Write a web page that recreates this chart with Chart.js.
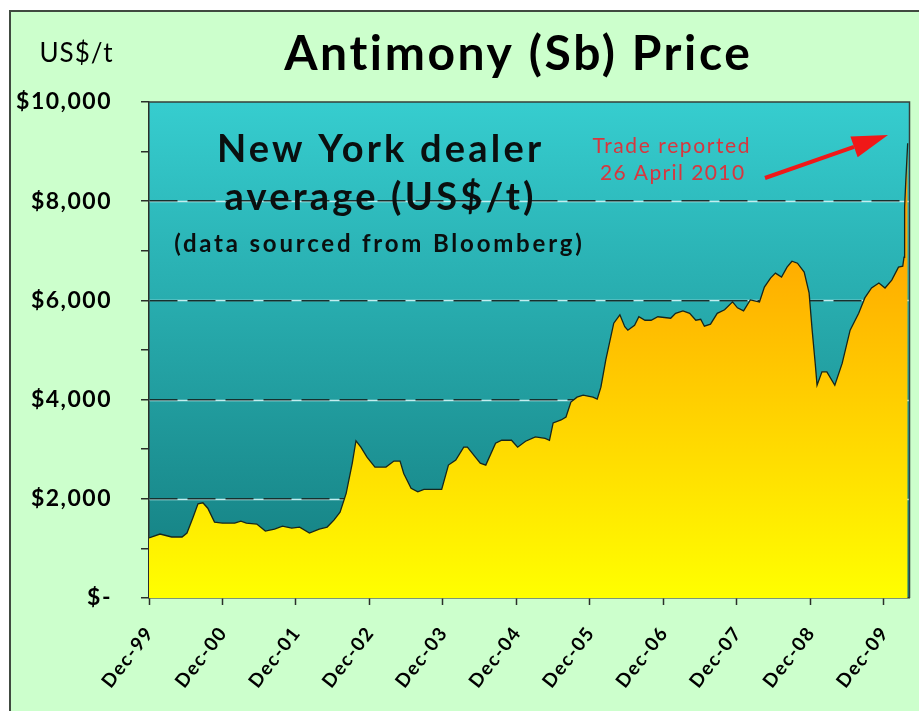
<!DOCTYPE html>
<html>
<head>
<meta charset="utf-8">
<title>Antimony (Sb) Price</title>
<script src="https://cdn.jsdelivr.net/npm/chart.js@4.4.1/dist/chart.umd.min.js"></script>
<style>
  html, body { margin: 0; padding: 0; background: #fff; }
  #wrap { position: relative; width: 919px; height: 711px; overflow: hidden; }
  #frame { position: absolute; left: 9px; top: 10px; width: 940px; height: 740px; background: #ccffcc; border: 2px solid #404a40; }
  #box { position: absolute; left: 0; top: 0; width: 919px; height: 711px; }
</style>
</head>
<body>
<div id="wrap">
  <div id="frame"></div>
  <div id="box"><canvas id="chart"></canvas></div>
</div>
<script>
// months after Dec-99
const months = [0, 1.8, 3.7, 5.4, 6.2, 7.2, 8.0, 8.8, 9.6, 10.7, 12.0, 14.0, 15.0, 15.9, 17.6, 19.0, 20.5, 21.8, 23.3, 24.6,
  26.2, 27.8, 29.1, 30.2, 31.2, 32.2, 33.2, 33.8, 34.6, 35.6, 36.9, 38.7, 40.0, 41.0, 41.6, 42.8, 43.9, 44.9, 47.8, 48.9,
  50.1, 51.4, 52.0, 53.3, 54.1, 55.0, 56.6, 57.6, 59.2, 60.2, 61.5, 63.1, 64.7, 65.4, 66.0, 67.3, 68.1, 68.9, 69.9, 70.9,
  72.5, 73.2, 73.8, 74.6, 75.3, 75.9, 76.9, 77.7, 78.2, 79.3, 80.0, 81.0, 82.0, 83.1, 85.2, 86.0, 87.2, 88.3, 89.3, 90.1,
  90.7, 91.7, 92.8, 94.0, 95.3, 96.1, 97.1, 98.2, 99.7, 100.5, 101.5, 102.3, 103.3, 104.2, 105.0, 105.9, 107.0, 107.8, 108.3, 108.8,
  109.1, 109.9, 110.7, 112.0, 113.2, 114.5, 115.9, 116.9, 118.0, 119.2, 120.2, 121.3, 122.4, 123.1, 123.3, 123.4, 123.6, 123.9];
const prices = [1210, 1290, 1230, 1230, 1310, 1630, 1900, 1920, 1810, 1530, 1510, 1510, 1550, 1510, 1490, 1350, 1390, 1450, 1410, 1430,
  1310, 1390, 1430, 1570, 1730, 2110, 2720, 3170, 3040, 2840, 2640, 2640, 2760, 2760, 2510, 2210, 2140, 2190, 2190, 2680,
  2780, 3040, 3040, 2840, 2720, 2680, 3120, 3180, 3180, 3040, 3160, 3250, 3220, 3180, 3530, 3590, 3650, 3950, 4050, 4090,
  4050, 4010, 4250, 4800, 5200, 5540, 5710, 5470, 5400, 5500, 5670, 5600, 5600, 5670, 5640, 5740, 5790, 5740, 5600, 5620,
  5480, 5520, 5740, 5810, 5970, 5850, 5790, 6010, 5970, 6270, 6450, 6550, 6470, 6670, 6790, 6750, 6570, 6150, 5400, 4730,
  4290, 4560, 4560, 4290, 4730, 5400, 5740, 6050, 6250, 6350, 6250, 6410, 6670, 6690, 6870, 7880, 8430, 9170];

const xTickMonths = [0, 12, 24, 36, 48, 60, 72, 84, 96, 108, 120];
const xTickLabels = ["Dec-99", "Dec-00", "Dec-01", "Dec-02", "Dec-03", "Dec-04", "Dec-05", "Dec-06", "Dec-07", "Dec-08", "Dec-09"];
const yTickValues = [0, 2000, 4000, 6000, 8000, 10000];
const yTickLabels = ["$-", "$2,000", "$4,000", "$6,000", "$8,000", "$10,000"];

const FONT = "Lato, 'DejaVu Sans', sans-serif";
Chart.defaults.font.family = FONT;
Chart.defaults.color = "#000";

const points = months.map((m, i) => ({ x: m, y: prices[i] }));

function text(ctx, str, x, y, font, spacing) {
  ctx.font = font;
  ctx.letterSpacing = spacing + "px";
  ctx.fillText(str, x + spacing / 2, y);
}

// teal background, light part of the dashed gridlines, frame, notes
const decor = {
  id: "decor",
  beforeDraw(chart) {
    const { ctx, chartArea: a, scales } = chart;
    ctx.save();
    const g = ctx.createLinearGradient(0, a.top, 0, a.bottom);
    g.addColorStop(0, "#36cdcf");
    g.addColorStop(1, "#137c7e");
    ctx.fillStyle = g;
    ctx.fillRect(a.left, a.top, a.right - a.left, a.bottom - a.top);
    ctx.strokeStyle = "#c4eef0";
    ctx.lineWidth = 1.5;
    [2000, 4000, 6000, 8000].forEach(v => {
      const y = Math.round(scales.y.getPixelForValue(v)) + 0.5;
      ctx.beginPath();
      ctx.moveTo(a.left, y);
      ctx.lineTo(a.right, y);
      ctx.stroke();
    });
    ctx.restore();
    // wider axis labels, like the original font
    ctx.letterSpacing = "1.5px";
  },
  afterDatasetsDraw(chart) {
    const { ctx, chartArea: a } = chart;
    ctx.save();
    ctx.strokeStyle = "#36403a";
    ctx.lineWidth = 1.5;
    ctx.beginPath();
    ctx.moveTo(a.left, a.top);
    ctx.lineTo(a.right, a.top);
    ctx.lineTo(a.right, a.bottom);
    ctx.stroke();
    ctx.restore();
  },
  afterDraw(chart) {
    const { ctx } = chart;
    ctx.letterSpacing = "0px";
    ctx.save();
    ctx.textAlign = "center";
    ctx.textBaseline = "alphabetic";
    ctx.fillStyle = "#000";

    text(ctx, "Antimony (Sb) Price", 517, 70, "bold 48px " + FONT, 2.6);
    text(ctx, "US$/t", 76, 62, "26px " + FONT, 1);

    ctx.fillStyle = "#0a0f0f";
    text(ctx, "New York dealer", 379, 162, "bold 38px " + FONT, 3.2);
    text(ctx, "average (US$/t)", 379, 210, "bold 38px " + FONT, 3.2);
    text(ctx, "(data sourced from Bloomberg)", 378, 252, "bold 24px " + FONT, 2.8);

    ctx.fillStyle = "#d8363e";
    text(ctx, "Trade reported", 671, 153, "21px " + FONT, 1.6);
    text(ctx, "26 April 2010", 672, 180, "21px " + FONT, 1.4);

    // arrow
    const x1 = 765, y1 = 178, x2 = 888, y2 = 135;
    const ang = Math.atan2(y2 - y1, x2 - x1);
    const hl = 36, hw = 11;
    const bx = x2 - hl * Math.cos(ang), by = y2 - hl * Math.sin(ang);
    ctx.strokeStyle = "#f01818";
    ctx.fillStyle = "#f01818";
    ctx.lineWidth = 4;
    ctx.beginPath();
    ctx.moveTo(x1, y1);
    ctx.lineTo(bx, by);
    ctx.stroke();
    ctx.beginPath();
    ctx.moveTo(x2, y2);
    ctx.lineTo(bx + hw * Math.sin(ang), by - hw * Math.cos(ang));
    ctx.lineTo(bx - hw * Math.sin(ang), by + hw * Math.cos(ang));
    ctx.closePath();
    ctx.fill();
    ctx.restore();
  }
};

new Chart(document.getElementById("chart"), {
  type: "line",
  data: {
    datasets: [{
      data: points,
      fill: "origin",
      borderColor: "#17261c",
      borderWidth: 1.3,
      pointRadius: 0,
      tension: 0,
      backgroundColor(c) {
        const a = c.chart.chartArea;
        if (!a) return "#ffcc00";
        const g = c.chart.ctx.createLinearGradient(0, a.bottom, 0, a.top + 40);
        g.addColorStop(0, "#ffff00");
        g.addColorStop(1, "#ff9000");
        return g;
      }
    }]
  },
  options: {
    responsive: true,
    maintainAspectRatio: false,
    animation: false,
    layout: { padding: { top: 102, right: 7, left: 0, bottom: 0 } },
    plugins: { legend: { display: false }, tooltip: { enabled: false } },
    scales: {
      x: {
        type: "linear",
        min: 0,
        max: 124.2,
        afterBuildTicks(scale) { scale.ticks = xTickMonths.map(v => ({ value: v })); },
        afterFit(scale) { scale.height = 113; },
        ticks: {
          autoSkip: false,
          minRotation: 52,
          maxRotation: 52,
          padding: 17,
          labelOffset: 1,
          font: { size: 19, weight: "bold" },
          callback: v => xTickLabels[xTickMonths.indexOf(v)]
        },
        grid: { drawOnChartArea: false, tickLength: 7, tickColor: "#2a2f2a", tickWidth: 1.5 },
        border: { color: "#2a2f2a", width: 1.5 }
      },
      y: {
        min: 0,
        max: 10000,
        afterFit(scale) { scale.width = 149; },
        ticks: {
          stepSize: 1000,
          padding: 29,
          font: { size: 23, weight: "bold" },
          callback: v => { const i = yTickValues.indexOf(v); return i < 0 ? "" : yTickLabels[i]; }
        },
        grid: {
          color: c => (c.tick && c.tick.value % 2000 === 0 && c.tick.value > 0 && c.tick.value < 10000) ? "#16302e" : "rgba(0,0,0,0)",
          lineWidth: 1.5,
          tickLength: 8,
          tickColor: "#2a2f2a",
          tickWidth: 1.5
        },
        border: { color: "#2a2f2a", width: 1.5, dash: [28, 10] }
      }
    }
  },
  plugins: [decor]
});
</script>
</body>
</html>
